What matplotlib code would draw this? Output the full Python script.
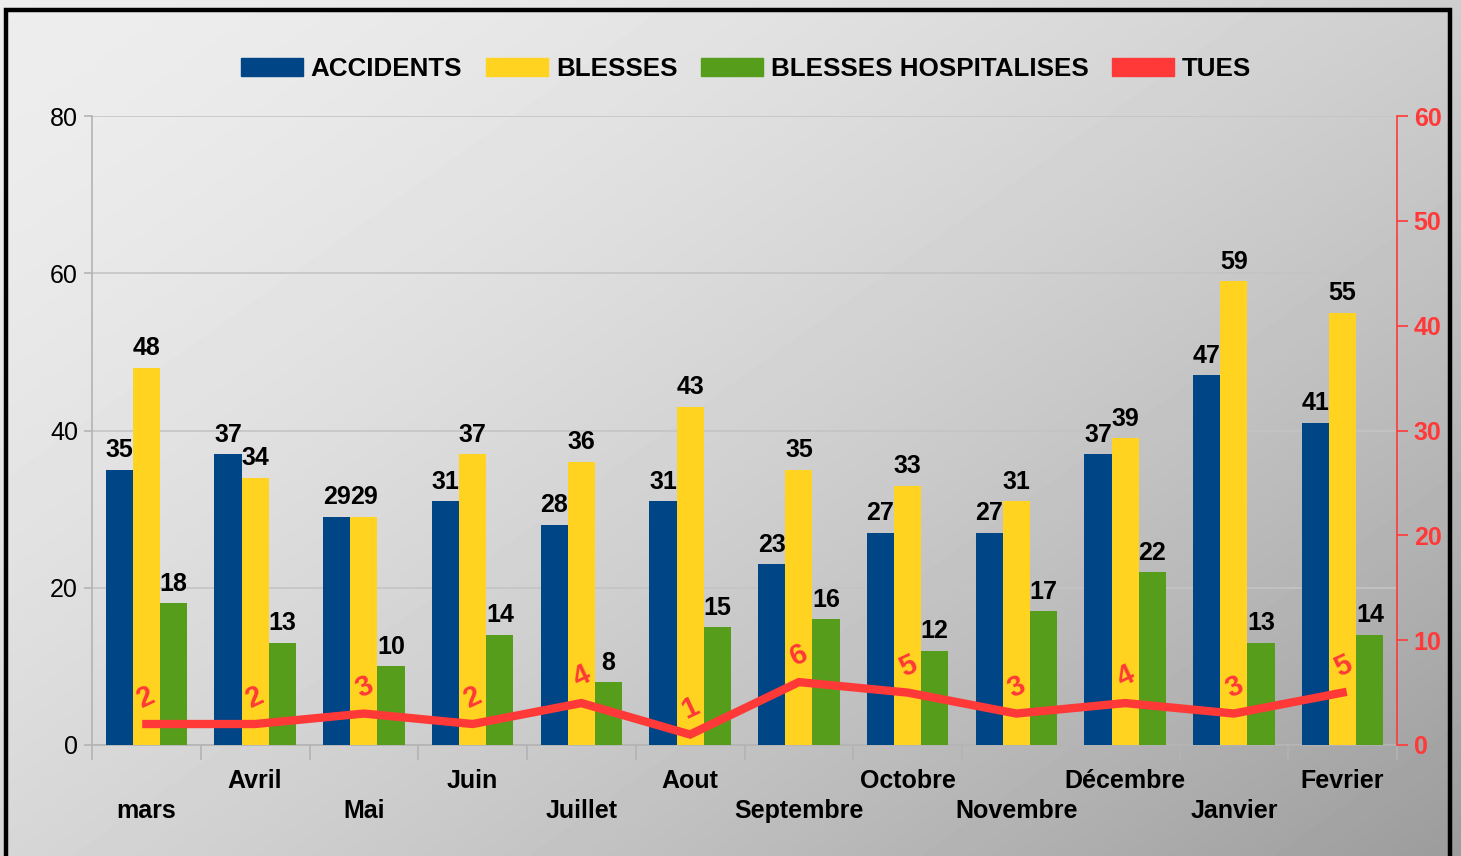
import numpy as np
import matplotlib.pyplot as plt
from matplotlib.patches import Patch, Rectangle

plt.rcParams['font.family'] = ['Liberation Sans', 'DejaVu Sans']

months = ['mars', 'Avril', 'Mai', 'Juin', 'Juillet', 'Aout', 'Septembre',
          'Octobre', 'Novembre', 'Décembre', 'Janvier', 'Fevrier']
accidents = [35, 37, 29, 31, 28, 31, 23, 27, 27, 37, 47, 41]
blesses = [48, 34, 29, 37, 36, 43, 35, 33, 31, 39, 59, 55]
hospitalises = [18, 13, 10, 14, 8, 15, 16, 12, 17, 22, 13, 14]
tues = [2, 2, 3, 2, 4, 1, 6, 5, 3, 4, 3, 5]

blue = '#004586'
yellow = '#ffd320'
green = '#579d1c'
red = '#ff3838'
fs = 18

fig = plt.figure(figsize=(14.61, 8.56), dpi=100)

# gradient background
bg = fig.add_axes([0, 0, 1, 1], zorder=-10)
yy, xx = np.mgrid[0:1:200j, 0:1:300j]
t = 0.55 * xx + 0.45 * yy
grad = 0.93 - 0.32 * t ** 1.6
bg.imshow(grad, cmap='gray', vmin=0, vmax=1, extent=[0, 1, 0, 1],
          aspect='auto', origin='upper', interpolation='bilinear')
bg.set_xlim(0, 1)
bg.set_ylim(0, 1)
bg.axis('off')
bg.add_patch(Rectangle((6 / 1461, -0.05), 1444 / 1461, 1.05 - 10 / 856,
                       fill=False, edgecolor='black', lw=3.2,
                       transform=bg.transAxes, clip_on=False))

ax = fig.add_axes([92 / 1461, 111 / 856, 1305 / 1461, 629 / 856])
ax.set_facecolor('none')
x = np.arange(len(months))
w = 0.25
b1 = ax.bar(x - w, accidents, w, color=blue, zorder=3)
b2 = ax.bar(x, blesses, w, color=yellow, zorder=3)
b3 = ax.bar(x + w, hospitalises, w, color=green, zorder=3)
for bars in (b1, b2, b3):
    for r in bars:
        ax.annotate(f'{int(r.get_height())}',
                    (r.get_x() + r.get_width() / 2, r.get_height()),
                    xytext=(0, 9), textcoords='offset points',
                    ha='center', va='baseline', fontsize=fs,
                    fontweight='bold', color='black', zorder=5)

ax.set_xlim(-0.5, len(months) - 0.5)
ax.set_ylim(0, 80)
ax.set_yticks([0, 20, 40, 60, 80])
ax.grid(axis='y', color='#c4c4c4', lw=1.2, zorder=0)
ax.tick_params(axis='y', labelsize=fs, colors='black', color='#b3b3b3',
               length=6, width=1.2, pad=4)
ax.set_xticks(x)
ax.set_xticklabels([])
ax.tick_params(axis='x', length=0)
# staggered month labels
for i, m in enumerate(months):
    off = 17 if i % 2 else 38.6
    ax.annotate(m, (i, 0), xycoords=('data', 'axes fraction'),
                xytext=(0, -off), textcoords='offset points',
                ha='center', va='top', fontsize=fs, fontweight='bold')
ax.set_xticks(np.arange(-0.5, len(months)), minor=True)
ax.tick_params(axis='x', which='minor', length=11, color='#b3b3b3', width=1.2)
for s in ('top', 'right'):
    ax.spines[s].set_visible(False)
for s in ('left', 'bottom'):
    ax.spines[s].set_color('#b3b3b3')
    ax.spines[s].set_linewidth(1.2)

ax2 = ax.twinx()
ax2.set_ylim(0, 60)
ax2.set_yticks([0, 10, 20, 30, 40, 50, 60])
ax2.plot(x, tues, color=red, lw=6, zorder=4, solid_joinstyle='miter')
for xi, v in zip(x, tues):
    ax2.annotate(str(v), (xi, v), xytext=(0, 19), textcoords='offset points',
                 ha='center', va='center', rotation=25, fontsize=21,
                 fontweight='bold', color=red)
ax2.tick_params(axis='y', labelsize=fs, colors=red, length=8, width=1.2, pad=4)
for lab in ax2.get_yticklabels():
    lab.set_fontweight('bold')
for s in ('top', 'left', 'bottom'):
    ax2.spines[s].set_visible(False)
ax2.spines['right'].set_color(red)
ax2.spines['right'].set_linewidth(1.2)

handles = [Patch(color=blue), Patch(color=yellow), Patch(color=green),
           Patch(color=red)]
labels = ['ACCIDENTS', 'BLESSES', 'BLESSES HOSPITALISES', 'TUES']
leg = fig.legend(handles, labels, loc='center', bbox_to_anchor=(746 / 1461, 1 - 69 / 856),
                 ncol=4, frameon=False, handlelength=2.4, handleheight=0.7,
                 handletextpad=0.3, columnspacing=0.9,
                 prop={'size': 18.7, 'weight': 'bold'})

fig.savefig('out.png', dpi=100)
